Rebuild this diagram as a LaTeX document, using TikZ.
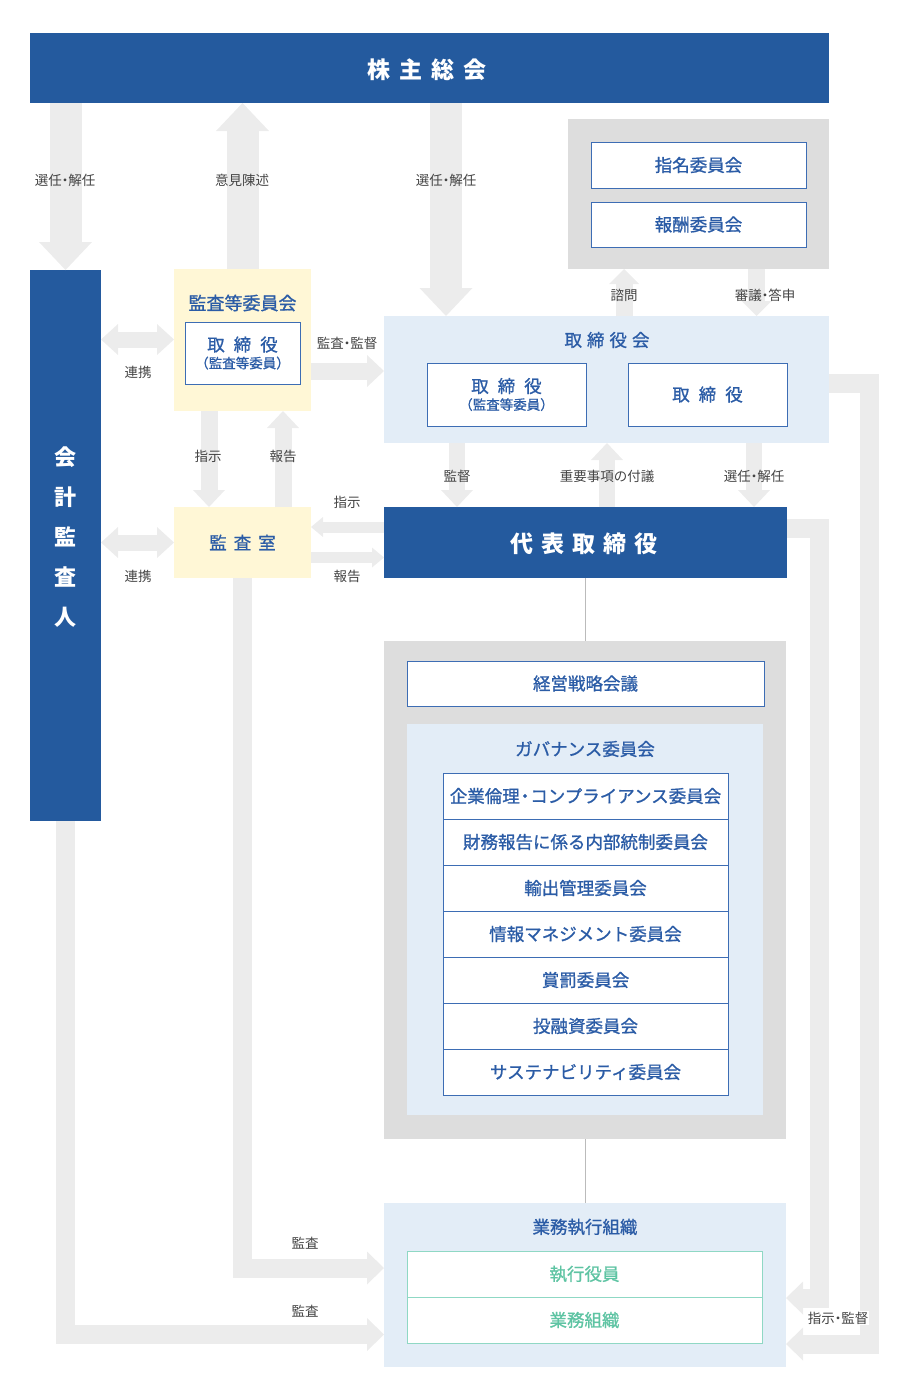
\documentclass[tikz,border=0pt]{standalone}
\usepackage{fontspec}
\setmainfont{Noto Sans CJK JP}
\newfontfamily\mdfont{Noto Sans CJK JP}[FakeBold=1.0]
\usetikzlibrary{arrows.meta,calc}
\definecolor{navy}{HTML}{245A9E}
\definecolor{tblue}{HTML}{2B5CA6}
\definecolor{bord}{HTML}{3D6DB4}
\definecolor{lblue}{HTML}{E3EDF7}
\definecolor{ylw}{HTML}{FFF7D6}
\definecolor{gbox}{HTML}{DDDDDD}
\definecolor{arr}{HTML}{ECECEC}
\definecolor{grn}{HTML}{5EC4A3}
\definecolor{grnb}{HTML}{8FD8C4}
\definecolor{lbl}{HTML}{444444}
\definecolor{thin}{HTML}{BBBBBB}
\newcommand{\dt}{\kern-3.5pt・\kern-3.5pt}
\begin{document}
\begin{tikzpicture}[x=1pt,y=-1pt,
  bx/.style={anchor=north west,inner sep=0pt,outer sep=0pt},
  navybox/.style={bx,fill=navy,text=white,font=\bfseries\fontsize{23}{26}\selectfont},
  areabox/.style={bx,fill=#1},
  whitebox/.style={bx,fill=white,draw=bord,line width=1pt,text=tblue,font=\mdfont\fontsize{17.5}{20}\selectfont},
  greenbox/.style={bx,fill=white,draw=grnb,line width=1pt,text=grn,font=\mdfont\fontsize{17.5}{20}\selectfont},
  title/.style={text=tblue,font=\mdfont\fontsize{17.5}{20}\selectfont,inner sep=0pt},
  lab/.style={text=lbl,font=\fontsize{13.5}{16}\selectfont,inner sep=1pt},
  bigA/.style={draw=arr,line width=32pt,-{Triangle[length=28pt,width=53pt,line width=0pt]}},
  medA/.style={draw=arr,line width=17pt,-{Triangle[length=17pt,width=32pt,line width=0pt]}},
  dblA/.style={draw=arr,line width=16pt,{Triangle[length=17pt,width=31pt,line width=0pt]}-{Triangle[length=17pt,width=31pt,line width=0pt]}},
  smA/.style={draw=arr,line width=11pt,-{Triangle[length=12pt,width=20pt,line width=0pt]}},
  elA/.style={draw=arr,line width=19pt,line join=miter,-{Triangle[length=17pt,width=33pt,line width=0pt]}},
  thinl/.style={draw=thin,line width=1pt}]
\useasboundingbox (0,0) rectangle (902,1398);

% ---------- boxes ----------
\node[navybox,minimum width=799pt,minimum height=70pt] (kab) at (30,33) {};
\node[text=white,font=\bfseries\fontsize{23}{26}\selectfont,inner sep=0pt] (kabt) at (427,70) {株\hspace{9pt}主\hspace{9pt}総\hspace{9pt}会};
\node[areabox=navy,minimum width=71pt,minimum height=551pt] (kaikei) at (30,270) {};
\node[text=white,font=\bfseries\fontsize{22}{40}\selectfont,align=center,inner sep=0pt] (kaikeit) at (65.5,537) {会\\計\\監\\査\\人};

\node[areabox=ylw,minimum width=137pt,minimum height=142pt] (kansaI) at (174,269) {};
\node[title,font=\mdfont\fontsize{18}{20}\selectfont] (kansaIt) at (242.5,303) {監査等委員会};
\node[whitebox,minimum width=115pt,minimum height=62pt,align=center] (kansaIn) at (185,322)
  {取\hspace{9pt}締\hspace{9pt}役\\[-3pt]{\fontsize{13.5}{15}\selectfont （監査等委員）}};

\node[areabox=gbox,minimum width=261pt,minimum height=150pt] (gray1) at (568,119) {};
\node[whitebox,minimum width=215pt,minimum height=46pt] (shimei) at (591,142) {指名委員会};
\node[whitebox,minimum width=215pt,minimum height=45pt] (houshu) at (591,202) {報酬委員会};

\node[areabox=lblue,minimum width=445pt,minimum height=127pt] (torikai) at (384,316) {};
\node[title] (torikait) at (607,340) {取\hspace{5pt}締\hspace{5pt}役\hspace{5pt}会};
\node[whitebox,minimum width=159pt,minimum height=63pt,align=center] (tori1) at (427,363)
  {取\hspace{9pt}締\hspace{9pt}役\\[-3pt]{\fontsize{13.5}{15}\selectfont （監査等委員）}};
\node[whitebox,minimum width=159pt,minimum height=63pt] (tori2) at (628,363) {取\hspace{9pt}締\hspace{9pt}役};

\node[navybox,minimum width=403pt,minimum height=71pt] (daihyo) at (384,507) {};
\node[text=white,font=\bfseries\fontsize{23}{26}\selectfont,inner sep=0pt] (daihyot) at (584,544) {代\hspace{8pt}表\hspace{8pt}取\hspace{8pt}締\hspace{8pt}役};
\node[areabox=ylw,minimum width=137pt,minimum height=71pt,text=tblue,font=\mdfont\fontsize{17.5}{20}\selectfont] (kansashitsu) at (174,507) {監\hspace{7pt}査\hspace{7pt}室};

\node[areabox=gbox,minimum width=402pt,minimum height=498pt] (gray2) at (384,641) {};
\node[whitebox,minimum width=357pt,minimum height=45pt] (keiei) at (407,661) {経営戦略会議};
\node[areabox=lblue,minimum width=356pt,minimum height=391pt] (gov) at (407,724) {};
\node[title] (govt) at (585,749) {ガバナンス委員会};
\node[whitebox,minimum width=285pt,minimum height=46pt] (c1) at (443,773) {企業倫理\dt コンプライアンス委員会};
\node[whitebox,minimum width=285pt,minimum height=46pt] (c2) at (443,819) {財務報告に係る内部統制委員会};
\node[whitebox,minimum width=285pt,minimum height=46pt] (c3) at (443,865) {輸出管理委員会};
\node[whitebox,minimum width=285pt,minimum height=46pt] (c4) at (443,911) {情報マネジメント委員会};
\node[whitebox,minimum width=285pt,minimum height=46pt] (c5) at (443,957) {賞罰委員会};
\node[whitebox,minimum width=285pt,minimum height=46pt] (c6) at (443,1003) {投融資委員会};
\node[whitebox,minimum width=285pt,minimum height=46pt] (c7) at (443,1049) {サステナビリティ委員会};

\node[areabox=lblue,minimum width=402pt,minimum height=164pt] (gyomu) at (384,1203) {};
\node[title] (gyomut) at (585,1227) {業務執行組織};
\node[greenbox,minimum width=355pt,minimum height=46pt] (shikko) at (407,1251) {執行役員};
\node[greenbox,minimum width=355pt,minimum height=46pt] (soshiki) at (407,1297) {業務組織};

% ---------- connectors ----------
\draw[thinl] (daihyo.south -| gray2.north) -- (gray2.north);
\draw[thinl] (gray2.south) -- (gray2.south |- gyomu.north);

\draw[bigA] (kab.south -| kaikei.north) -- (kaikei.north);
\draw[bigA] (kansaI.north) -- (kansaI.north |- kab.south);
\draw[bigA] ($(kab.south west)+(416,0)$) -- ($(torikai.north west)+(62,0)$);

\draw[smA,line width=17pt,-{Triangle[length=15pt,width=30pt,line width=0pt]}] ($(torikai.north west)+(240,0)$) -- ($(gray1.south west)+(56,0)$);
\draw[smA,line width=17pt,-{Triangle[length=15pt,width=30pt,line width=0pt]}] ($(gray1.south west)+(188.5,0)$) -- ($(torikai.north west)+(372.5,0)$);

\draw[dblA] ($(kaikei.north east)+(0,69.5)$) -- ($(kansaI.north west)+(0,70.5)$);
\draw[dblA] ($(kaikei.north east)+(0,272.5)$) -- (kansashitsu.west);
\draw[medA] ($(kansaI.north east)+(0,102)$) -- ($(torikai.north west)+(0,55)$);

\draw[medA,line width=17pt] ($(kansaI.south west)+(35,0)$) -- ($(kansashitsu.north west)+(35,0)$);
\draw[medA,line width=17pt] ($(kansashitsu.north west)+(109,0)$) -- ($(kansaI.south west)+(109,0)$);

\draw[medA,line width=16pt] ($(torikai.south west)+(73,0)$) -- ($(daihyo.north west)+(73,0)$);
\draw[medA,line width=16pt] ($(daihyo.north west)+(223,0)$) -- ($(torikai.south west)+(223,0)$);
\draw[medA,line width=16pt] ($(torikai.south west)+(370,0)$) -- ($(daihyo.north west)+(370,0)$);

\draw[smA] ($(daihyo.north west)+(0,20)$) -- ($(kansashitsu.north east)+(0,20)$);
\draw[smA] ($(kansashitsu.north east)+(0,50.5)$) -- ($(daihyo.north west)+(0,50.5)$);

\draw[elA] (kansashitsu.south) |- ($(gyomu.north west)+(0,65)$);
\draw[elA] (kaikei.south) |- ($(gyomu.north west)+(0,131.5)$);
\draw[elA] ($(torikai.north east)+(0,67.5)$) -- ++(40.5,0) |- ($(gyomu.north east)+(0,141)$);
\draw[elA] ($(daihyo.north east)+(0,21.5)$) -- ++(32.5,0) |- ($(gyomu.north east)+(0,95)$);

% ---------- labels ----------
\node[lab] (l1) at (65,180) {選任\dt 解任};
\node[lab] (l2) at (242,180) {意見陳述};
\node[lab] (l3) at (446,180) {選任\dt 解任};
\node[lab] (l4) at (624,295) {諮問};
\node[lab] (l5) at (765,295) {審議\dt 答申};
\node[lab] (l6) at (138,372) {連携};
\node[lab] (l7) at (347,343) {監査\dt 監督};
\node[lab] (l8) at (208,456) {指示};
\node[lab] (l9) at (283,456) {報告};
\node[lab] (l10) at (457,476) {監督};
\node[lab] (l11) at (607,476) {重要事項の付議};
\node[lab] (l12) at (754,476) {選任\dt 解任};
\node[lab] (l13) at (347,502) {指示};
\node[lab] (l14) at (347,576) {報告};
\node[lab] (l15) at (138,576) {連携};
\node[lab] (l16) at (305,1243) {監査};
\node[lab] (l17) at (305,1311) {監査};
\node[lab,fill=white] (l18) at (838,1318) {指示\dt 監督};
\end{tikzpicture}
\end{document}
